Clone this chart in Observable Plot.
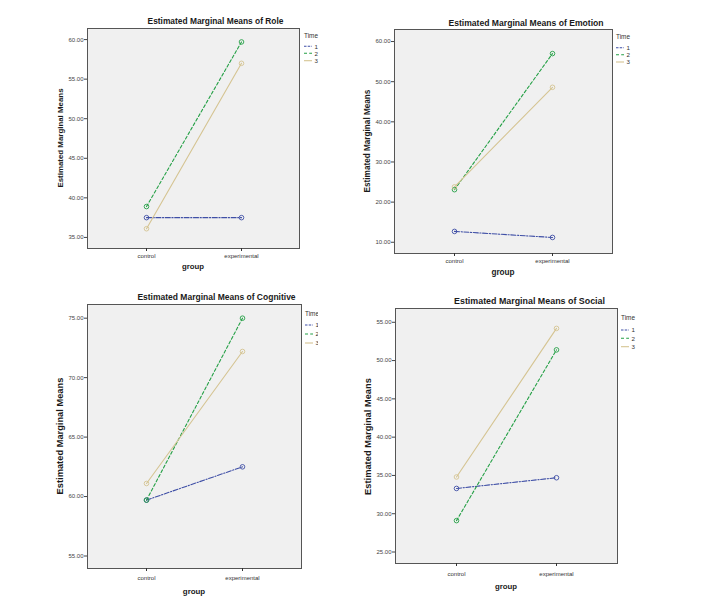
<!DOCTYPE html>
<html><head><meta charset="utf-8">
<script src="https://cdn.jsdelivr.net/npm/d3@7"></script>
<script src="https://cdn.jsdelivr.net/npm/@observablehq/plot@0.6"></script>
<style>
body{margin:0;background:#fff;}
#root{position:relative;width:710px;height:602px;overflow:hidden;background:#fff;font-family:"Liberation Sans",Arial,sans-serif;}
#root svg{position:absolute;}
</style></head><body><div id="root"></div>
<script>
// ---------- data ----------
const groups = ["control", "experimental"];
const times = ["1", "2", "3"];

const roleTicks = [35, 40, 45, 50, 55, 60];
const roleTime1 = [37.5, 37.5];
const roleTime2 = [38.9, 59.7];
const roleTime3 = [36.1, 57.0];

const emotionTicks = [10, 20, 30, 40, 50, 60];
const emotionTime1 = [12.7, 11.2];
const emotionTime2 = [23.1, 57.0];
const emotionTime3 = [23.8, 48.6];

const cognitiveTicks = [55, 60, 65, 70, 75];
const cognitiveTime1 = [59.7, 62.5];
const cognitiveTime2 = [59.7, 75.0];
const cognitiveTime3 = [61.1, 72.2];

const socialTicks = [25, 30, 35, 40, 45, 50, 55];
const socialTime1 = [33.3, 34.7];
const socialTime2 = [29.1, 51.4];
const socialTime3 = [34.8, 54.2];

// ---------- styles / layout ----------
const FONT = '"Liberation Sans", Arial, sans-serif';
const lineColors = ["#3f4fa6", "#25a046", "#d5c492"];
const lineDashes = ["5,1.6,1.2,1.6", "3,2.2", "none"];

const panels = [
  {name: "Role", series: [roleTime1, roleTime2, roleTime3], ticks: roleTicks, domain: [33.6, 61.4],
   frame: [87, 28, 299, 248], xPad: 2.2,
   title: {x: 215.5, y: 21.3, fs: 8.4}, ylab: {x: 60, y: 138, fs: 7.9}, xlab: {x: 193, y: 269.3, fs: 7.8},
   legend: {x: 304, y: 35.7, items: [46.3, 53.3, 60.7], clip: null}},
  {name: "Emotion", series: [emotionTime1, emotionTime2, emotionTime3], ticks: emotionTicks, domain: [7.2, 63.0],
   frame: [394, 29, 612, 253], xPad: 2.4,
   title: {x: 526, y: 22.7, fs: 8.6}, ylab: {x: 367.5, y: 141, fs: 8.2}, xlab: {x: 503, y: 275, fs: 8.2},
   legend: {x: 616, y: 37, items: [47.7, 54.7, 62], clip: null}},
  {name: "Cognitive", series: [cognitiveTime1, cognitiveTime2, cognitiveTime3], ticks: cognitiveTicks, domain: [53.95, 76.15],
   frame: [87, 304, 301, 568], xPad: 4.4,
   title: {x: 216.5, y: 296.7, fs: 8.5}, ylab: {x: 59.5, y: 436, fs: 9.3}, xlab: {x: 194, y: 594, fs: 7.9},
   legend: {x: 305, y: 314, items: [325, 334, 343], clip: 318}},
  {name: "Social", series: [socialTime1, socialTime2, socialTime3], ticks: socialTicks, domain: [23.5, 56.8],
   frame: [395, 308, 617, 563], xPad: 5.4,
   title: {x: 529.5, y: 301, fs: 8.9}, ylab: {x: 367.5, y: 436.5, fs: 9.3}, xlab: {x: 506, y: 589.3, fs: 7.8},
   legend: {x: 621, y: 317.7, items: [330, 338.3, 346.7], clip: null}}
];

const root = document.getElementById("root");

// ---------- plots ----------
panels.forEach(p => {
  const rows = [];
  times.forEach((t, i) => groups.forEach((g, j) => rows.push({time: t, group: g, value: p.series[i][j]})));
  const ml = 34, mr = 2, mt = 2, mb = 20;
  const fw = p.frame[2] - p.frame[0], fh = p.frame[3] - p.frame[1];
  const marks = [
    Plot.frame({fill: "#f0f0f0", stroke: "#555", strokeWidth: 1}),
    Plot.axisY({ticks: p.ticks, tickFormat: d => d.toFixed(2), tickSize: 3, tickPadding: 1, label: null, color: "#444"}),
    Plot.axisX({tickSize: 3, tickPadding: p.xPad, label: null, color: "#333"})
  ];
  times.forEach((t, i) => {
    const sub = rows.filter(d => d.time === t);
    marks.push(Plot.line(sub, {x: "group", y: "value", stroke: lineColors[i], strokeWidth: 1.1, strokeDasharray: lineDashes[i]}));
  });
  times.forEach((t, i) => {
    const sub = rows.filter(d => d.time === t);
    marks.push(Plot.dot(sub, {x: "group", y: "value", stroke: lineColors[i], r: 2.3, strokeWidth: 0.9, fill: "none"}));
  });
  const chart = Plot.plot({
    width: fw + ml + mr, height: fh + mt + mb,
    marginLeft: ml, marginRight: mr, marginTop: mt, marginBottom: mb,
    style: {background: "transparent", fontFamily: FONT, fontSize: "6px", overflow: "visible"},
    x: {type: "point", domain: groups, padding: 0.61},
    y: {domain: p.domain},
    marks
  });
  chart.style.position = "absolute";
  chart.style.left = (p.frame[0] - ml) + "px";
  chart.style.top = (p.frame[1] - mt) + "px";
  root.appendChild(chart);
});

// ---------- titles, labels, legends ----------
const svg = d3.create("svg").attr("width", 710).attr("height", 602)
  .style("left", "0px").style("top", "0px").style("pointer-events", "none")
  .attr("font-family", FONT);

panels.forEach((p, k) => {
  svg.append("text").attr("x", p.title.x).attr("y", p.title.y + 0.358 * p.title.fs)
    .attr("text-anchor", "middle").attr("font-weight", "bold").attr("font-size", p.title.fs)
    .attr("fill", "#1a1a1a").text("Estimated Marginal Means of " + p.name);

  svg.append("g").attr("transform", `translate(${p.ylab.x},${p.ylab.y}) rotate(-90)`)
    .append("text").attr("x", 0).attr("y", 0.358 * p.ylab.fs)
    .attr("text-anchor", "middle").attr("font-weight", "bold").attr("font-size", p.ylab.fs)
    .attr("fill", "#1a1a1a").text("Estimated Marginal Means");

  svg.append("text").attr("x", p.xlab.x).attr("y", p.xlab.y)
    .attr("text-anchor", "middle").attr("font-weight", "bold").attr("font-size", p.xlab.fs)
    .attr("fill", "#1a1a1a").text("group");

  const lg = svg.append("g");
  if (p.legend.clip) {
    const id = "clip" + k;
    svg.append("clipPath").attr("id", id).append("rect")
      .attr("x", 0).attr("y", 0).attr("width", p.legend.clip).attr("height", 602);
    lg.attr("clip-path", `url(#${id})`);
  }
  lg.append("text").attr("x", p.legend.x).attr("y", p.legend.y + 0.358 * 6.4)
    .attr("font-size", 6.4).attr("fill", "#333").text("Time");
  times.forEach((t, i) => {
    const y = p.legend.items[i];
    lg.append("line").attr("x1", p.legend.x).attr("x2", p.legend.x + 8).attr("y1", y).attr("y2", y)
      .attr("stroke", lineColors[i]).attr("stroke-width", 1.1)
      .attr("stroke-dasharray", i === 0 ? "2.5,1.2" : lineDashes[i]);
    lg.append("text").attr("x", p.legend.x + 10.5).attr("y", y + 0.358 * 6.2)
      .attr("font-size", 6.2).attr("fill", "#333").text(t);
  });
});

root.appendChild(svg.node());
</script>
</body></html>
